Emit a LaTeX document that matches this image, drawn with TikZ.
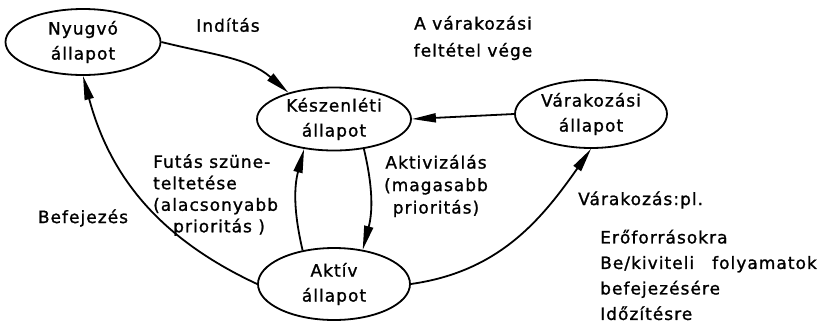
\documentclass[tikz,border=0pt]{standalone}
\usepackage{fontspec}
\setmainfont{DejaVu Sans}[LetterSpace=6,FakeBold=1.2]
\usetikzlibrary{arrows.meta,shapes.geometric}
\begin{document}
\begin{tikzpicture}[x=1pt,y=1pt,
  font=\fontsize{17}{25}\selectfont,
  state/.style={ellipse, draw, line width=1.8pt, inner sep=0pt, align=center},
  conn/.style={line width=1.8pt, -{Triangle[length=24pt,width=9pt]}},
  lbl/.style={inner sep=0pt}]
\useasboundingbox (0,-325) rectangle (828,0);
% states
\node[state, minimum width=155pt, minimum height=66pt] (ny) at (83,-42) {Nyugvó\\állapot};
\node[state, minimum width=154pt, minimum height=63pt] (ke) at (334,-119) {Készenléti\\állapot};
\node[state, minimum width=152pt, minimum height=68pt] (va) at (591,-114) {Várakozási\\állapot};
\node[state, minimum width=152pt, minimum height=72pt] (ak) at (334,-284) {Aktív\\állapot};
% connectors
\draw[conn] (ny.east) to[out=-14,in=139] (ke.150);
\draw[conn] (va.west) -- (ke.east);
\draw[conn] (ak.west) to[out=155,in=-75] (ny.south);
\draw[conn] (ak.133) to[bend left=14] (ke.-135);
\draw[conn] (ke.-45) to[bend left=14] (ak.50);
\draw[conn] (ak.east) to[out=8,in=-125] (va.south);
% labels
\node[lbl] (l1) at (228,-25) {Indítás};
\node[lbl, align=center, font=\fontsize{17}{27}\selectfont] (l2) at (473,-38) {A várakozási\\feltétel vége};
\node[lbl] (l3) at (83,-218) {Befejezés};
\node[lbl, align=left, anchor=west, font=\fontsize{17}{21.5}\selectfont] (l4) at (153,-195)
  {Futás szüne-\\teltetése\\(alacsonyabb\\\hspace*{20pt}prioritás )};
\node[lbl, align=center, font=\fontsize{17}{22.5}\selectfont] (l5) at (436,-186)
  {Aktivizálás\\(magasabb\\prioritás)};
\node[lbl, anchor=west] (l6) at (578,-200) {Várakozás:pl.};
\node[lbl, align=left, anchor=west, font=\fontsize{17}{25.5}\selectfont] (l7) at (600,-275)
  {Erőforrásokra\\Be/kiviteli\hspace{18pt}folyamatok\\befejezésére\\Időzítésre};
\end{tikzpicture}
\end{document}
